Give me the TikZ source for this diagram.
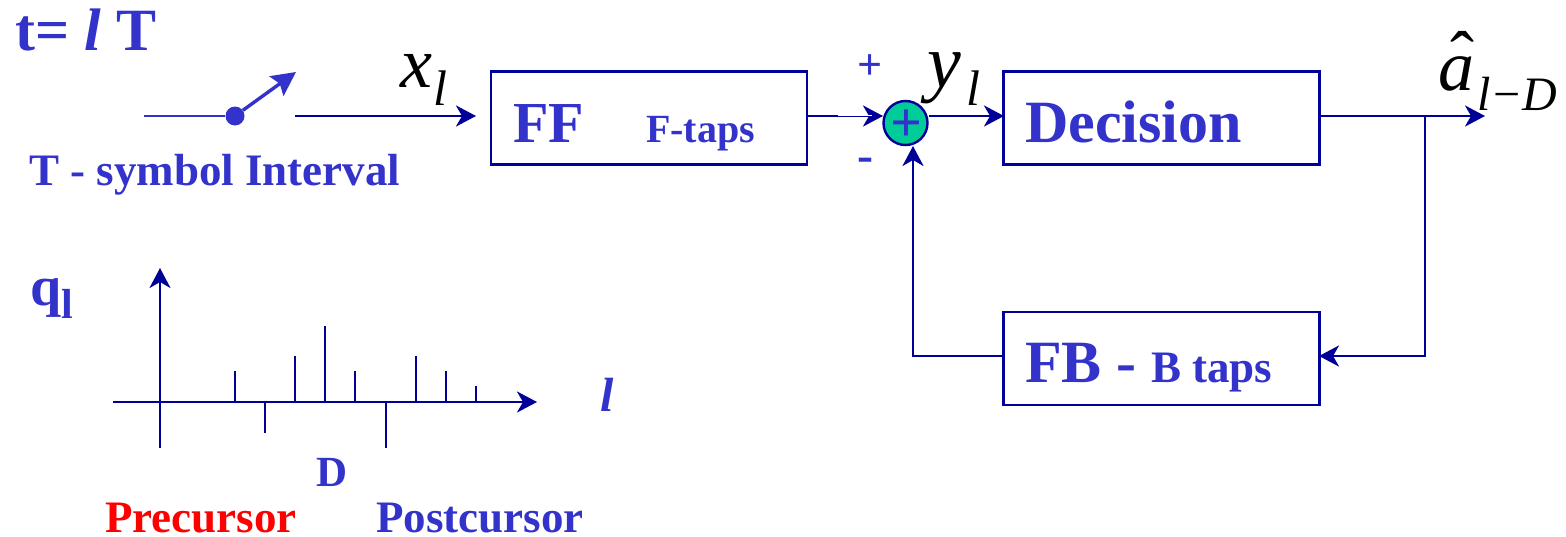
\documentclass[tikz,border=0pt]{standalone}
\usepackage{fontspec}
\setmainfont{Liberation Serif}
\usetikzlibrary{arrows.meta}
\definecolor{lineblue}{HTML}{000099}
\definecolor{textblue}{HTML}{3333CC}
\definecolor{sumgreen}{HTML}{00CC99}
\newcommand{\fsz}[1]{\fontsize{#1}{#1}\selectfont}
\tikzset{
  boxnode/.style={draw=lineblue, line width=2.4pt, minimum width=316pt, minimum height=93pt, inner sep=0pt},
  lbl/.style={anchor=base west, inner sep=0pt, text=textblue, font=\bfseries},
  symb/.style={anchor=base west, inner sep=0pt, text=black, font=\itshape},
  wire/.style={draw=lineblue, line width=2.6pt},
  arrow/.style={wire, -{Stealth[length=20pt, width=21pt, inset=6pt]}},
}
\begin{document}
\begin{tikzpicture}[x=1pt, y=-1pt]
\useasboundingbox (0,0) rectangle (1566,536);

% Blocks and the summing point
\node[boxnode] (ff) at (649,118) {};
\node[boxnode] (decision) at (1161.5,118) {};
\node[boxnode] (fb) at (1161.5,358.5) {};
\node[circle, draw=lineblue, fill=sumgreen, line width=2.4pt, minimum size=44pt, inner sep=0pt] (sum) at (905.5,123) {};
\node[anchor=base, inner sep=0pt, text=textblue, font=\fsz{56}\bfseries] (sumplus) at (906,141) {+};

% Text in the blocks
\node[lbl, font=\fsz{58}\bfseries] (fftext) at (513,142) {FF};
\node[lbl, font=\fsz{40}\bfseries] (fftaps) at (646,142) {F-taps};
\node[lbl, font=\fsz{60}\bfseries] (dectext) at (1025,142) {Decision};
\node[lbl, font=\fsz{60}\bfseries] (fbtext) at (1025,382) {FB -};
\node[lbl, font=\fsz{45}\bfseries] (fbtaps) at (1151,382) {B taps};

% Sampling switch
\coordinate (swin) at (144,116);
\coordinate (swtip) at (296,72);
\coordinate (swout) at (295,116);
\coordinate (ffin) at (476,116);
\node[circle, fill=textblue, minimum size=19pt, inner sep=0pt] (swdot) at (235,116) {};
\draw[textblue, line width=2.6pt] (swin) -- (swdot);
\draw[textblue, line width=3.4pt, -{Stealth[length=24pt, width=24pt, inset=4pt]}] (swdot) -- (swtip);
\draw[arrow] (swout) -- (ffin);

% Forward path
\coordinate (ffout) at (807,116);
\coordinate (sumin) at (883,116);
\coordinate (decin) at (1004,116);
\coordinate (decout) at (1319,116);
\coordinate (tap) at (1425,116);
\coordinate (outend) at (1485,116);
\coordinate (fbin) at (1319,356);
\coordinate (fbright) at (1425,356);
\coordinate (fbout) at (1004,356);
\coordinate (fbleft) at (913,356);
\coordinate (sumbelow) at (913,146);
\draw[arrow] (ffout) -- (sumin);
\draw[white, line width=0.8pt] (838,115.6) -- (872,115.6);
\draw[arrow] (sum.east |- decin) -- (decin);
\draw[arrow] (decout) -- (outend);

% Feedback path
\draw[arrow] (tap) -- (fbright) -- (fbin);
\draw[arrow] (fbout) -- (fbleft) -- (sumbelow);

% Axes and samples
\coordinate (xstart) at (113,402);
\coordinate (xend) at (537,402);
\coordinate (ystart) at (160,448);
\coordinate (yend) at (160,268);
\draw[arrow] (xstart) -- (xend);
\draw[arrow] (ystart) -- (yend);
\foreach \px/\py in {235/371, 265/433, 295/356, 325/326, 355/371, 386/448, 416/356, 446/371, 476/386}
  \draw[wire] (\px,402) -- (\px,\py);

% Labels
\node[lbl, font=\fsz{60}\bfseries] (tlabel) at (15,50) {t= \textit{l} T};
\node[lbl, font=\fsz{45}\bfseries] (tsymbol) at (29,185) {T - symbol Interval};
\node[symb, font=\fsz{72}\itshape] (xsym) at (400,87) {x};
\node[symb, font=\fsz{50}\itshape] (xsub) at (433,105) {l};
\node[symb, font=\fsz{76}\itshape] (ysym) at (927,87) {y};
\node[symb, font=\fsz{50}\itshape] (ysub) at (966,105) {l};
\node[symb, font=\fsz{72}\itshape] (asym) at (1438,90) {\rlap{\hspace{12pt}\raisebox{9pt}{\upshape ˆ}}a};
\node[symb, font=\fsz{48}\itshape] (asub) at (1477,110) {l−D};
\node[lbl, font=\fsz{44}\bfseries] (plus) at (857,79) {+};
\node[lbl, font=\fsz{48}\bfseries] (minus) at (857,171) {-};
\node[lbl, font=\fsz{56}\bfseries] (qsym) at (30,305) {q};
\node[lbl, font=\fsz{42}\bfseries] (qsub) at (61,318) {l};
\node[lbl, font=\fsz{48}\bfseries\itshape] (lsym) at (600,411) {l};
\node[lbl, font=\fsz{43}\bfseries] (dlabel) at (316,486) {D};
\node[lbl, font=\fsz{45}\bfseries, text=red] (pre) at (105,532) {Precursor};
\node[lbl, font=\fsz{45}\bfseries] (post) at (376,532) {Postcursor};
\end{tikzpicture}
\end{document}
